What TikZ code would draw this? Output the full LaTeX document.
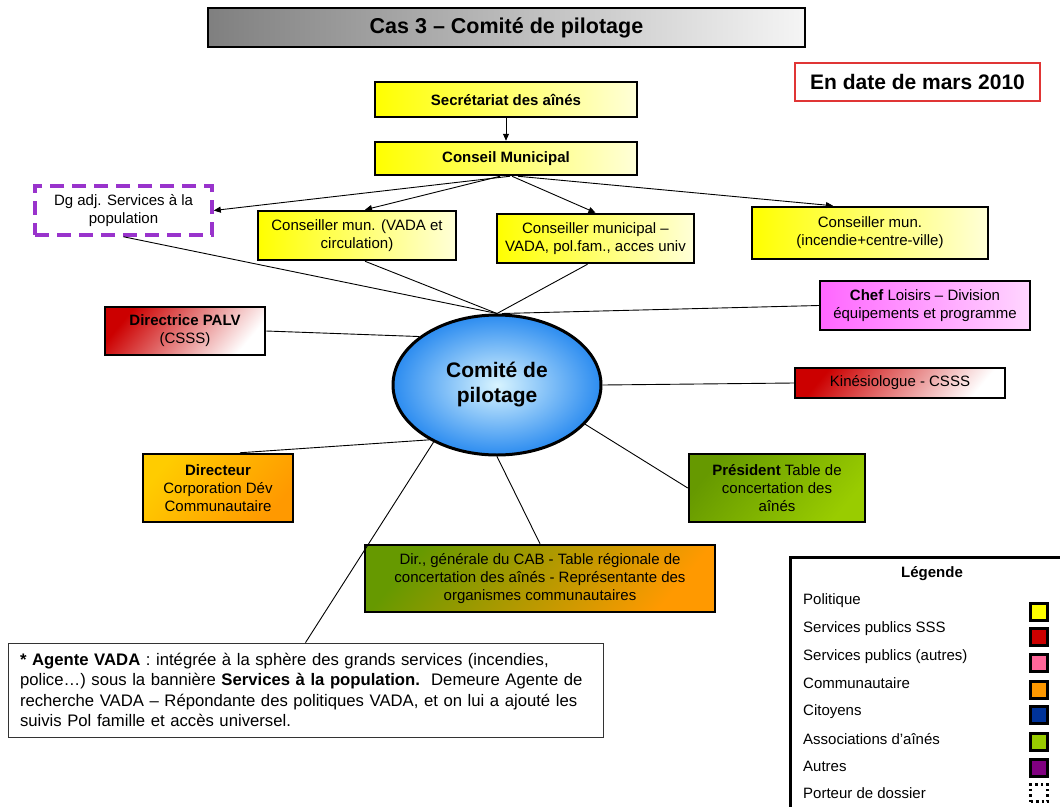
\documentclass[tikz,border=0pt]{standalone}
\usepackage{fontspec}
\setmainfont{Liberation Sans}
\usetikzlibrary{arrows.meta,shapes.geometric,calc}

\definecolor{polY}{HTML}{FFFF00}
\definecolor{polL}{HTML}{FFFFD8}
\definecolor{sssR}{HTML}{CC0000}
\definecolor{pubP}{HTML}{FF6699}
\definecolor{comO}{HTML}{FF9900}
\definecolor{comY}{HTML}{FFCC00}
\definecolor{citB}{HTML}{003399}
\definecolor{assG}{HTML}{99CC00}
\definecolor{assD}{HTML}{669900}
\definecolor{autV}{HTML}{800080}
\definecolor{dashV}{HTML}{9933CC}
\definecolor{magA}{HTML}{FF66FF}
\definecolor{magB}{HTML}{FFD6FF}
\definecolor{skyIn}{HTML}{D8F4FF}
\definecolor{skyOut}{HTML}{2C8CF0}
\definecolor{dateR}{HTML}{E03535}

\tikzset{
  box/.style={draw=black, line width=2.5pt, align=center, inner sep=1pt,
    font=\fontsize{15}{18}\selectfont},
  polbox/.style={box, left color=polY, right color=polL},
  redbox/.style={box, top color=sssR, middle color=sssR!16!white, bottom color=white, shading angle=50},
  arr/.style={-{Triangle[length=7pt,width=6pt]}, line width=0.9pt},
  link/.style={line width=0.9pt},
  legtxt/.style={anchor=west, font=\fontsize{15}{18}\selectfont, inner sep=0pt},
  swatch/.style={draw=black, line width=2.5pt, minimum size=17, inner sep=0pt},
}

\begin{document}
\begin{tikzpicture}[x=1pt,y=-1pt]
\useasboundingbox (0,0) rectangle (1060,806);
\fill[white] (0,0) rectangle (1060,806);

% heading and date
\node[box, left color=black!50, right color=black!4, minimum width=597, minimum height=39,
  font=\bfseries\fontsize{21.5}{24}\selectfont] (title) at (506.5,27.5) {Cas 3 – Comité de pilotage};
\node[draw=dateR, line width=1.4pt, fill=white, minimum width=245, minimum height=38,
  font=\bfseries\fontsize{21}{24}\selectfont] (date) at (917.5,82) {En date de mars 2010};

% political chain
\node[polbox, minimum width=262, minimum height=35, font=\bfseries\fontsize{15}{18}\selectfont]
  (sec) at (506,99.5) {Secrétariat des aînés};
\node[polbox, minimum width=262, minimum height=33, font=\bfseries\fontsize{15}{18}\selectfont]
  (cm) at (506,158.5) {Conseil Municipal};

\node[draw=dashV, line width=3.5pt, dash pattern=on 14pt off 8pt, align=center,
  minimum width=177, minimum height=49, inner sep=1pt, font=\fontsize{15}{18}\selectfont]
  (dga) at (123.5,210.5) {Dg adj. Services à la\\population};
\node[polbox, minimum width=198, minimum height=49] (cva) at (357,235.5)
  {Conseiller mun. (VADA et\\circulation)};
\node[polbox, minimum width=197, minimum height=49] (cmm) at (595.5,238.5)
  {Conseiller municipal –\\VADA, pol.fam., acces univ};
\node[polbox, minimum width=236, minimum height=52] (cinc) at (870,233)
  {Conseiller mun.\\(incendie+centre-ville)};

% central committee
\node[ellipse, draw=black, line width=3pt, inner color=skyIn, outer color=skyOut,
  minimum width=208, minimum height=140, align=center,
  font=\bfseries\fontsize{21}{25}\selectfont] (cp) at (497,385) {Comité de\\pilotage};

% members around the committee
\node[redbox, minimum width=160, minimum height=48] (palv) at (185,331)
  {\textbf{Directrice PALV}\\(CSSS)};
\node[box, left color=magA, right color=magB, minimum width=210, minimum height=49]
  (chef) at (925,305.5) {\textbf{Chef} Loisirs – Division\\équipements et programme};
\node[redbox, minimum width=210, minimum height=30] (kin) at (900,383) {Kinésiologue - CSSS};
\node[box, top color=comY, bottom color=comO, shading angle=50, minimum width=150, minimum height=68]
  (cdc) at (218,488) {\textbf{Directeur}\\Corporation Dév\\Communautaire};
\node[box, top color=assD, bottom color=assG, shading angle=50, minimum width=176, minimum height=68]
  (pres) at (777,488) {\textbf{Président} Table de\\concertation des\\aînés};
\node[box, top color=assD, bottom color=comO, shading angle=50, minimum width=350, minimum height=67]
  (cab) at (540,578.5) {Dir., générale du CAB - Table régionale de\\concertation des aînés - Représentante des\\organismes communautaires};

% note
\node[draw=black!80, line width=0.8pt, fill=white, text width=571, inner xsep=12, inner ysep=4,
  minimum height=94, align=left, font=\fontsize{16.7}{20.5}\selectfont] (note) at (305.5,690)
  {\textbf{* Agente VADA} : intégrée à la sphère des grands services (incendies,\\
   police…) sous la bannière \textbf{Services à la population.}\ \ Demeure Agente de\\
   recherche VADA – Répondante des politiques VADA, et on lui a ajouté les\\
   suivis Pol famille et accès universel.};

% arrows
\draw[arr] (sec) -- (cm);
\draw[arr] ([xshift=4]cm.south) -- (dga.east);
\draw[arr] ([xshift=-6]cm.south) -- ([xshift=8]cva.north);
\draw[arr] ([xshift=6]cm.south) -- (cmm.north);
\draw[arr] ([xshift=12]cm.south) -- ([xshift=-37]cinc.north);

% links to the committee
\draw[link] (dga.south) -- (cp.north);
\draw[link] ([xshift=8]cva.south) -- (cp.north);
\draw[link] ([xshift=-8]cmm.south) -- (cp.north);
\draw[link] (chef.west) -- ([xshift=5]cp.north);
\draw[link] (palv.east) -- (cp.148);
\draw[link] (kin.west) -- (cp.east);
\draw[link] ([xshift=22]cdc.north) -- (cp.219);
\draw[link] (note.north) -- (cp.222);
\draw[link] (pres.west) -- (cp.-24);
\draw[link] (cab.north) -- (cp.south);

% legend
\node[draw=black, line width=3pt, minimum width=273, minimum height=253, inner sep=0pt] (leg) at (926.5,683.5) {};
\node[font=\bfseries\fontsize{15}{18}\selectfont, inner sep=0pt] (legt) at (932,574) {Légende};
\node[legtxt] (l1) at (803,601) {Politique};
\node[legtxt] (l2) at (803,629) {Services publics SSS};
\node[legtxt] (l3) at (803,656.5) {Services publics (autres)};
\node[legtxt] (l4) at (803,683.5) {Communautaire};
\node[legtxt] (l5) at (803,711.5) {Citoyens};
\node[legtxt] (l6) at (803,739) {Associations d’aînés};
\node[legtxt] (l7) at (803,766.5) {Autres};
\node[legtxt] (l8) at (803,793.5) {Porteur de dossier};
\node[swatch, fill=polY] (s1) at (1039,612) {};
\node[swatch, fill=sssR] (s2) at (1039,637) {};
\node[swatch, fill=pubP] (s3) at (1039,663) {};
\node[swatch, fill=comO] (s4) at (1039,690) {};
\node[swatch, fill=citB] (s5) at (1039,715) {};
\node[swatch, fill=assG] (s6) at (1039,742) {};
\node[swatch, fill=autV] (s7) at (1039,768) {};
\node[swatch, draw=black, line width=2.5pt, dash pattern=on 2.5pt off 3pt, fill=white] (s8) at (1039,793) {};
\end{tikzpicture}
\end{document}
